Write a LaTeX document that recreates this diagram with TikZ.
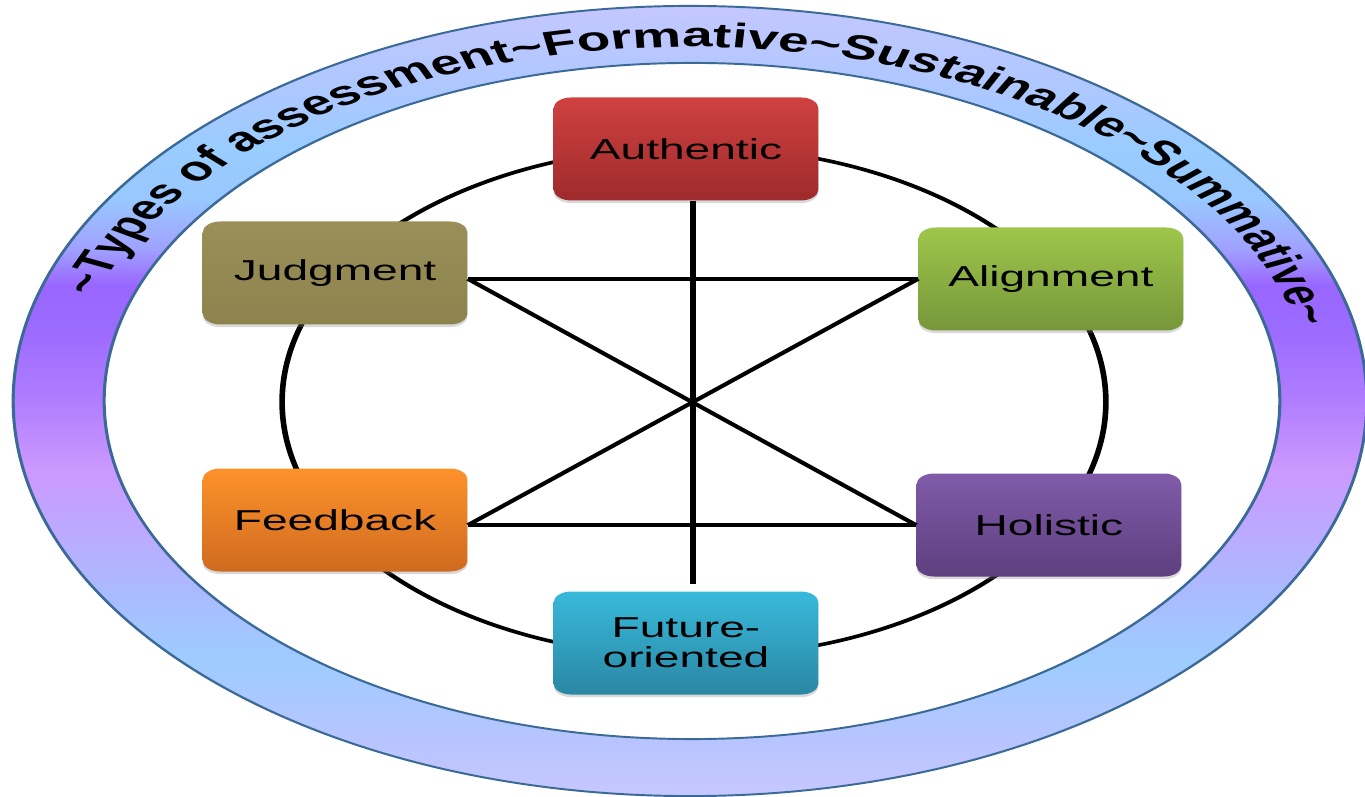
\documentclass[tikz,border=0pt]{standalone}
\usepackage{fontspec}
\setmainfont{Liberation Sans}
\usepackage{tikz}
\usetikzlibrary{decorations.text,shadows}

\definecolor{ringedge}{HTML}{3C6A96}
\definecolor{authtop}{HTML}{D04141}
\definecolor{authbot}{HTML}{9E2A2B}
\definecolor{judgtop}{HTML}{9A8F58}
\definecolor{judgbot}{HTML}{8D834E}
\definecolor{aligtop}{HTML}{9EC64B}
\definecolor{aligbot}{HTML}{76973A}
\definecolor{feedtop}{HTML}{FD922B}
\definecolor{feedbot}{HTML}{CF6B1F}
\definecolor{holitop}{HTML}{805BA9}
\definecolor{holibot}{HTML}{5E3F7F}
\definecolor{fututop}{HTML}{38B9DA}
\definecolor{futubot}{HTML}{2A87A4}

% blue / violet band of the outer ring
\pgfdeclareverticalshading{ringshade}{100bp}{%
  rgb(0bp)=(0.78,0.78,1); rgb(25bp)=(0.78,0.78,1);
  rgb(28.5bp)=(0.72,0.77,1); rgb(33.6bp)=(0.62,0.8,1);
  rgb(37.4bp)=(0.66,0.74,1); rgb(45.6bp)=(0.8,0.6,1);
  rgb(50.1bp)=(0.69,0.49,1); rgb(54.5bp)=(0.61,0.42,1);
  rgb(57.3bp)=(0.6,0.4,1); rgb(59.6bp)=(0.63,0.63,1);
  rgb(62.7bp)=(0.6,0.78,1); rgb(65.9bp)=(0.6,0.8,1);
  rgb(70.3bp)=(0.69,0.78,1); rgb(75bp)=(0.77,0.78,1);
  rgb(100bp)=(0.77,0.78,1)}

\newcommand\ringfont{\fontsize{19.5}{22}\selectfont\bfseries}
\newcommand\boxfont{\fontsize{16.4}{17}\selectfont}

\begin{document}
\begin{tikzpicture}
\useasboundingbox (-13.8,-7.92) rectangle (13.5,8.02);
\begin{scope}[transform canvas={xscale=1.6}, x=0.0125cm, y=0.02cm]

	\tikzstyle{box}=[rectangle,rounded corners=0.22cm,minimum width=3.31cm,minimum height=2.06cm,
		inner sep=0pt,font=\boxfont,align=center,
		drop shadow={opacity=0.3,shadow xshift=0pt,shadow yshift=-1.5pt}]
	\tikzstyle{link}=[line width=2pt]

	% outer ring
	\path[shading=ringshade,even odd rule] (0,0) ellipse [x radius=677, y radius=395]
		(2,0) ellipse [x radius=588, y radius=338];
	\draw[ringedge,line width=1.1pt] (0,0) ellipse [x radius=677, y radius=395]
		(2,0) ellipse [x radius=588, y radius=338];
	\path[decorate,decoration={text along path,text align=center,
		text={|\ringfont|{\textasciitilde}Types of assessment{\textasciitilde}Formative{\textasciitilde}Sustainable{\textasciitilde}Summative{\textasciitilde}}}]
		(163:622 and 354) arc [start angle=163, end angle=12, x radius=622, y radius=354];

	% inner circle
	\draw[link] (4,-1) ellipse [x radius=412, y radius=255];

	\node[box,top color=authtop,bottom color=authbot] (Authentic) at (-4,252) {Authentic};
	\node[box,top color=judgtop,bottom color=judgbot] (Judgment) at (-355,128) {Judgment};
	\node[box,top color=aligtop,bottom color=aligbot] (Alignment) at (361,122) {Alignment};
	\node[box,top color=feedtop,bottom color=feedbot] (Feedback) at (-355,-119) {Feedback};
	\node[box,top color=holitop,bottom color=holibot] (Holistic) at (359,-124) {Holistic};
	\node[box,top color=fututop,bottom color=futubot] (Future) at (-4,-242) {Future-\\oriented};

	\coordinate (hub) at (3,-1);
	\coordinate (stem) at ([yshift=4pt]Future.north);
	\coordinate (jr) at (Judgment.east |- Alignment.west);
	\coordinate (fr) at (Feedback.east |- Holistic.west);

	% links through the middle
	\draw[link] (Authentic.south -| hub) -- (stem -| hub);
	\draw[link] (jr) -- (Alignment.west);
	\draw[link] (fr) -- (Holistic.west);
	\draw[link] (jr) -- (Holistic.west);
	\draw[link] (fr) -- (Alignment.west);

\end{scope}
\end{tikzpicture}
\end{document}
